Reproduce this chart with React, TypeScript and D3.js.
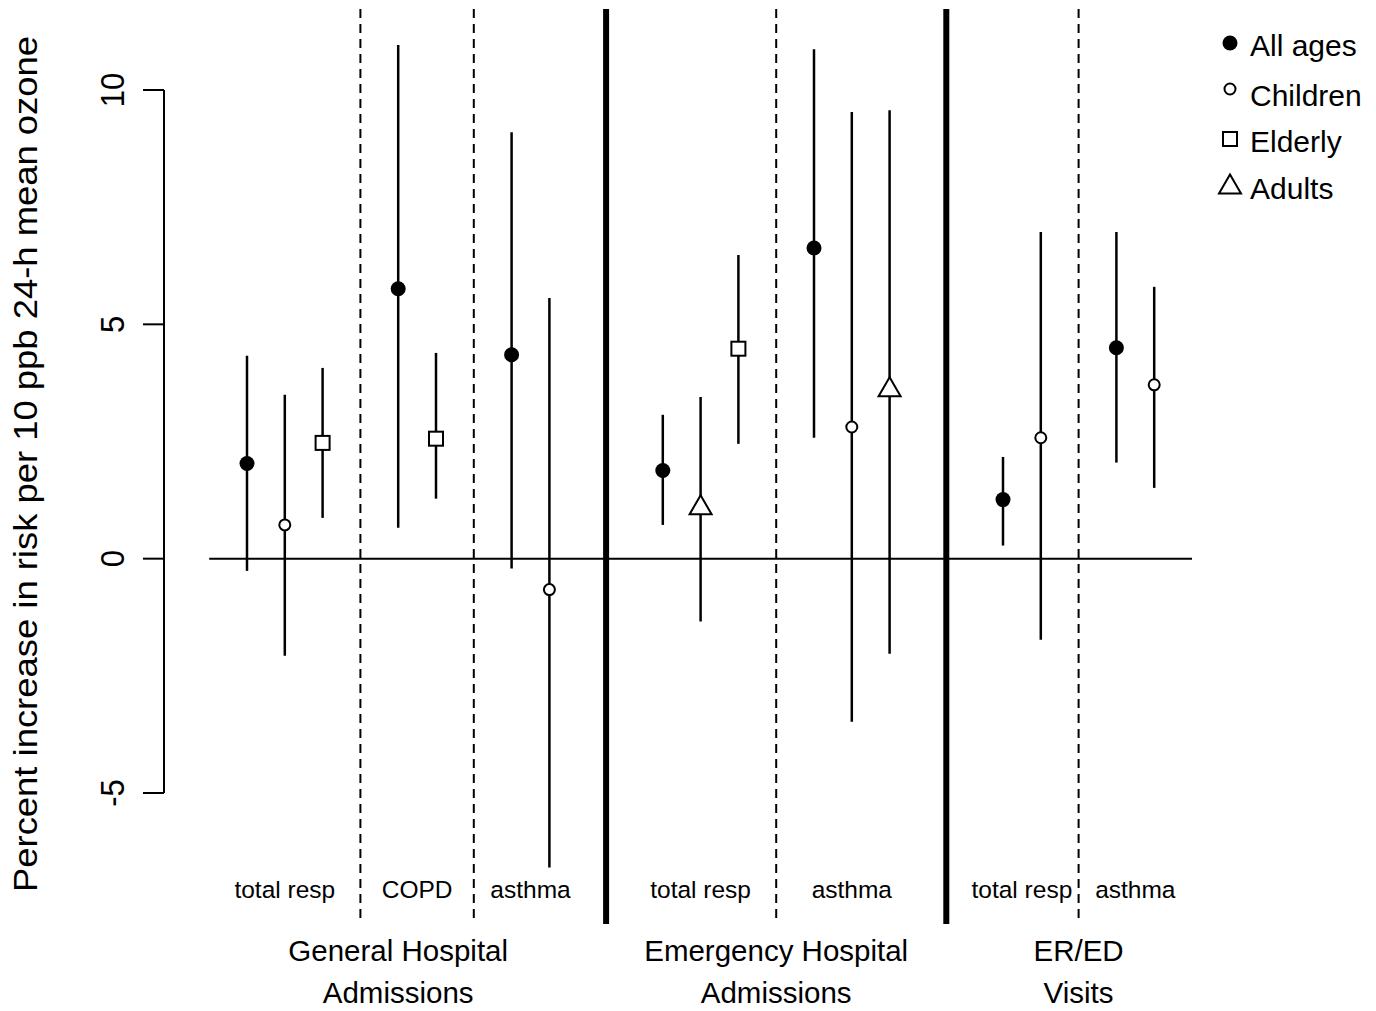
import React from "react";
import * as d3 from "d3";

// ---- data ----
const positions = [0, 1, 2, 4, 5, 7, 8, 11, 12, 13, 15, 16, 17, 20, 21, 23, 24];
const ageGroups = [
  "All ages", "Children", "Elderly",
  "All ages", "Elderly",
  "All ages", "Children",
  "All ages", "Adults", "Elderly",
  "All ages", "Children", "Adults",
  "All ages", "Children",
  "All ages", "Children",
];
const estimates = [2.03, 0.72, 2.47, 5.76, 2.56, 4.35, -0.66, 1.88, 1.13, 4.48, 6.63, 2.81, 3.65, 1.26, 2.58, 4.5, 3.71];
const lowerCI = [-0.26, -2.07, 0.87, 0.66, 1.28, -0.21, -6.59, 0.72, -1.34, 2.45, 2.58, -3.48, -2.03, 0.28, -1.73, 2.05, 1.51];
const upperCI = [4.33, 3.5, 4.07, 10.96, 4.39, 9.1, 5.56, 3.07, 3.45, 6.48, 10.87, 9.53, 9.57, 2.17, 6.97, 6.97, 5.8];

const outcomeLabels = ["total resp", "COPD", "asthma", "total resp", "asthma", "total resp", "asthma"];
const outcomePositions = [1, 4.5, 7.5, 12, 16, 20.5, 23.5];
const groupLabels = [["General Hospital", "Admissions"], ["Emergency Hospital", "Admissions"], ["ER/ED", "Visits"]];
const groupPositions = [4, 14, 22];
const dashedDividers = [3, 6, 14, 22];
const solidDividers = [9.5, 18.5];
const yTicks = [-5, 0, 5, 10];
const legendItems = ["All ages", "Children", "Elderly", "Adults"];

const FONT = "'Liberation Sans', Arial, Helvetica, sans-serif";

function Marker({ type, x, y }: { type: string; x: number; y: number }) {
  if (type === "All ages") return <circle cx={x} cy={y} r={7.5} fill="#000" />;
  if (type === "Children")
    return <circle cx={x} cy={y} r={5.5} fill="#fff" stroke="#000" strokeWidth={2} />;
  if (type === "Elderly")
    return <rect x={x - 7} y={y - 7} width={14} height={14} fill="#fff" stroke="#000" strokeWidth={2} />;
  const w = 22, h = 19;
  const sym = d3.line()([
    [x - w / 2, y + h * 0.45],
    [x + w / 2, y + h * 0.45],
    [x, y - h * 0.55],
  ]) + "Z";
  return <path d={sym} fill="#fff" stroke="#000" strokeWidth={2} strokeLinejoin="miter" />;
}

export default function App() {
  const width = 1376, height = 1011;
  const x = d3.scaleLinear().domain([-1, 25]).range([209.2, 1192]);
  const y = d3.scaleLinear().domain([-5, 10]).range([793, 90]);
  const axisX = 164;
  const divTop = 9, divBottom = 924;
  const legendCenters = [43, 89, 139, 185];
  const legendBaselines = [56, 106, 152, 199];

  return (
    <svg
      width={width}
      height={height}
      style={{ position: "absolute", left: 0, top: 0, background: "#fff" }}
      fontFamily={FONT}
    >
      <rect x={0} y={0} width={width} height={height} fill="#fff" />
      {/* y axis */}
      <line x1={axisX} x2={axisX} y1={y(10)} y2={y(-5)} stroke="#000" strokeWidth={2} />
      {yTicks.map((t) => (
        <g key={t}>
          <line x1={axisX - 21} x2={axisX} y1={y(t)} y2={y(t)} stroke="#000" strokeWidth={2} />
          <text
            transform={`translate(123.5,${y(t)}) rotate(-90) scale(1,1.08)`}
            textAnchor="middle"
            fontSize={31}
            fill="#000"
          >
            {t}
          </text>
        </g>
      ))}
      <text
        transform={`translate(37,464) rotate(-90)`}
        textAnchor="middle"
        fontSize={34}
        textLength={856}
        lengthAdjust="spacingAndGlyphs"
        fill="#000"
      >
        Percent increase in risk per 10 ppb 24-h mean ozone
      </text>

      {/* zero line */}
      <line x1={x(-1)} x2={x(25)} y1={y(0)} y2={y(0)} stroke="#000" strokeWidth={2} />

      {/* dividers */}
      {dashedDividers.map((d) => (
        <line key={"d" + d} x1={x(d)} x2={x(d)} y1={divTop} y2={divBottom} stroke="#000" strokeWidth={2} strokeDasharray="9,6" />
      ))}
      {solidDividers.map((d) => (
        <line key={"s" + d} x1={x(d)} x2={x(d)} y1={divTop} y2={divBottom} stroke="#000" strokeWidth={6} />
      ))}

      {/* error bars + points */}
      {positions.map((p, i) => (
        <g key={i}>
          <line x1={x(p)} x2={x(p)} y1={y(lowerCI[i])} y2={y(upperCI[i])} stroke="#000" strokeWidth={2.5} />
          <Marker type={ageGroups[i]} x={x(p)} y={y(estimates[i])} />
        </g>
      ))}

      {/* outcome labels */}
      {outcomeLabels.map((l, i) => (
        <text key={"o" + i} x={x(outcomePositions[i])} y={898} textAnchor="middle" fontSize={24.5} fill="#000">
          {l}
        </text>
      ))}
      {/* group labels */}
      {groupLabels.map((lines, i) => (
        <g key={"g" + i}>
          {lines.map((ln, j) => (
            <text key={j} x={x(groupPositions[i])} y={961 + j * 42} textAnchor="middle" fontSize={29.5} fill="#000">
              {ln}
            </text>
          ))}
        </g>
      ))}

      {/* legend */}
      {legendItems.map((item, i) => (
        <g key={"l" + i}>
          <Marker type={item} x={1230} y={legendCenters[i]} />
          <text x={1250} y={legendBaselines[i]} fontSize={30} fill="#000">
            {item}
          </text>
        </g>
      ))}
    </svg>
  );
}
